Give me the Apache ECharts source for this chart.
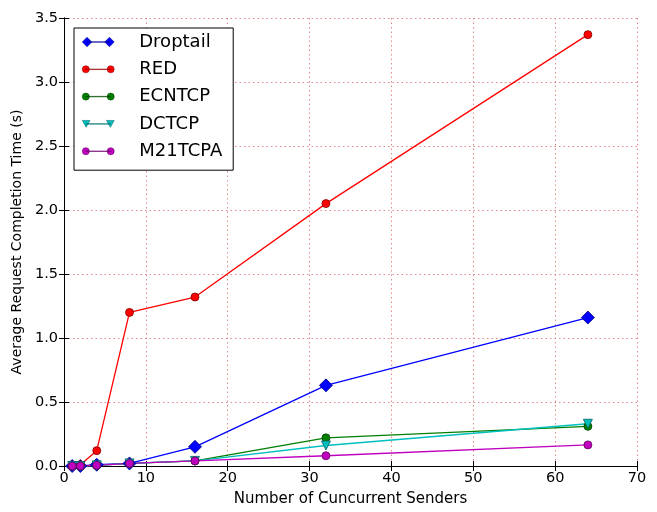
<!DOCTYPE html>
<html><head><meta charset="utf-8">
<script src="https://cdn.jsdelivr.net/npm/echarts@6/dist/echarts.min.js"></script>
<style>html,body{margin:0;padding:0;background:#fff}#c{width:657px;height:512px}</style>
</head><body><div id="c"></div>
<script>
const senders = [1, 2, 4, 8, 16, 32, 64];
const droptail = [0.0, 0.0, 0.01, 0.02, 0.15, 0.63, 1.16];
const red = [0.0, 0.01, 0.12, 1.2, 1.32, 2.05, 3.37];
const ecntcp = [0.0, 0.0, 0.005, 0.02, 0.04, 0.22, 0.31];
const dctcp = [0.0, 0.0, 0.005, 0.02, 0.04, 0.16, 0.33];
const m21tcpa = [0.0, 0.0, 0.005, 0.02, 0.04, 0.08, 0.165];
const xTicks = [0, 10, 20, 30, 40, 50, 60, 70];
const yTicks = [0, 0.5, 1, 1.5, 2, 2.5, 3, 3.5];

const font = 'DejaVu Sans';
const chart = echarts.init(document.getElementById('c'), null, {renderer: 'canvas'});

function pair(x, y){ return x.map((v,i)=>[v, y[i]]); }

const diamond = 'path://M0,6 L6,0 L12,6 L6,12 Z M6,5.7 L34,5.7 L34,6.3 L6,6.3 Z M28,6 L34,0 L40,6 L34,12 Z';
const circles = 'path://M2,6 A4,4 0 1 1 10,6 A4,4 0 1 1 2,6 Z M6,5.7 L34,5.7 L34,6.3 L6,6.3 Z M30,6 A4,4 0 1 1 38,6 A4,4 0 1 1 30,6 Z';
const tris = 'path://M1.5,2 L10.5,2 L6,10 Z M6,5.7 L34,5.7 L34,6.3 L6,6.3 Z M29.5,2 L38.5,2 L34,10 Z';

function mk(name, data, color, symbol, size, edge){
  return {
    name, type: 'line', data: pair(senders, data),
    symbol, symbolSize: size,
    lineStyle: {color, width: 1.3},
    itemStyle: {color, borderColor: edge, borderWidth: 0.8},
    emphasis: {disabled: true},
    z: 3
  };
}

chart.setOption({
  animation: false,
  backgroundColor: '#fff',
  grid: {left: 64, right: 20, top: 18, bottom: 44},
  legend: {
    orient: 'vertical', left: 74, top: 28,
    padding: [5, 11, 10, 8],
    borderColor: '#000', borderWidth: 1, borderRadius: 0,
    backgroundColor: '#fff',
    itemWidth: 32, itemHeight: 10, itemGap: 9.3,
    itemStyle: {borderWidth: 0.5},
    textStyle: {fontFamily: font, fontSize: 18, color: '#000', padding: [0,0,0,20]},
    data: [
      {name: 'Droptail', icon: diamond},
      {name: 'RED', icon: circles},
      {name: 'ECNTCP', icon: circles},
      {name: 'DCTCP', icon: tris},
      {name: 'M21TCPA', icon: circles}
    ]
  },
  xAxis: [{
    type: 'value', min: 0, max: 70, interval: 10,
    name: 'Number of Cuncurrent Senders', nameLocation: 'middle', nameGap: 26,
    nameTextStyle: {fontFamily: font, fontSize: 15, color: '#000'},
    axisLine: {lineStyle: {color: '#000', width: 1}},
    axisTick: {inside: true, length: 5, lineStyle: {color: '#000'}},
    axisLabel: {fontFamily: font, fontSize: 14.5, color: '#000', margin: 5,
      formatter: v => xTicks.includes(v) ? String(v) : ''},
    splitLine: {show: true, lineStyle: {color: '#e08a8a', type: [1.5, 3], width: 1}}
  }, {
    type: 'value', min: 0, max: 70, interval: 10, position: 'top',
    axisLine: {lineStyle: {color: '#000', width: 1}},
    axisTick: {inside: true, length: 5, lineStyle: {color: '#000'}},
    axisLabel: {show: false}, splitLine: {show: false}
  }],
  yAxis: [{
    type: 'value', min: 0, max: 3.5, interval: 0.5,
    name: 'Average Request Completion Time (s)', nameLocation: 'middle', nameGap: 34,
    nameTextStyle: {fontFamily: font, fontSize: 14, color: '#000'},
    axisLine: {show: true, lineStyle: {color: '#000', width: 1}},
    axisTick: {show: true, inside: true, length: 5, lineStyle: {color: '#000'}},
    axisLabel: {fontFamily: font, fontSize: 14.5, color: '#000', margin: 6,
      formatter: v => yTicks.some(t => Math.abs(t - v) < 1e-9) ? v.toFixed(1) : ''},
    splitLine: {show: true, lineStyle: {color: '#e08a8a', type: [1.5, 3], width: 1}}
  }, {
    type: 'value', min: 0, max: 3.5, interval: 0.5, position: 'right',
    axisLine: {show: true, lineStyle: {color: '#000', width: 1}},
    axisTick: {show: true, inside: true, length: 5, lineStyle: {color: '#000'}},
    axisLabel: {show: false}, splitLine: {show: false}
  }],
  series: [
    mk('Droptail', droptail, '#0000ff', 'diamond', 13, '#000080'),
    mk('RED', red, '#ff0000', 'circle', 8, '#800000'),
    mk('ECNTCP', ecntcp, '#007f00', 'circle', 8, '#003f00'),
    mk('DCTCP', dctcp, '#00bfbf', 'triangle', 9, '#005f5f'),
    mk('M21TCPA', m21tcpa, '#bf00bf', 'circle', 8, '#5f005f')
  ].map(s => s.name === 'DCTCP' ? Object.assign(s, {symbolRotate: 180}) : s)
});
</script></body></html>
